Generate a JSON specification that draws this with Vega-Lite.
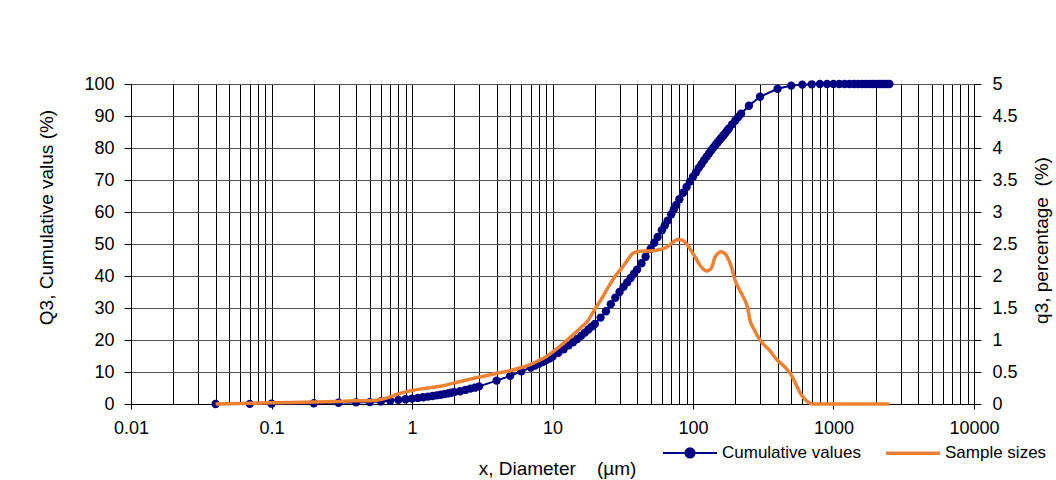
{
  "$schema": "https://vega.github.io/schema/vega-lite/v6.json",
  "width": 843,
  "height": 320,
  "autosize": {"type": "none"},
  "padding": {"left": 131, "top": 84, "right": 82, "bottom": 76},
  "background": "white",
  "config": {
    "font": "Liberation Sans",
    "view": {"stroke": "#000000", "strokeWidth": 1},
    "axis": {
      "labelFontSize": 18, "titleFontSize": 19, "titleFontWeight": "normal",
      "labelColor": "#000000", "titleColor": "#000000",
      "domainColor": "#000000", "tickColor": "#000000", "domainWidth": 1, "tickWidth": 1
    }
  },
  "datasets": {
    "cum": [
      {"d": 0.04, "v": 0, "series": "Cumulative values"},
      {"d": 0.07, "v": 0.05, "series": "Cumulative values"},
      {"d": 0.1, "v": 0.1, "series": "Cumulative values"},
      {"d": 0.2, "v": 0.25, "series": "Cumulative values"},
      {"d": 0.3, "v": 0.4, "series": "Cumulative values"},
      {"d": 0.4, "v": 0.5, "series": "Cumulative values"},
      {"d": 0.5, "v": 0.6, "series": "Cumulative values"},
      {"d": 0.6, "v": 0.8, "series": "Cumulative values"},
      {"d": 0.7, "v": 1.0, "series": "Cumulative values"},
      {"d": 0.8, "v": 1.3, "series": "Cumulative values"},
      {"d": 0.9, "v": 1.5, "series": "Cumulative values"},
      {"d": 1.0, "v": 1.7, "series": "Cumulative values"},
      {"d": 1.1, "v": 1.9, "series": "Cumulative values"},
      {"d": 1.2, "v": 2.1, "series": "Cumulative values"},
      {"d": 1.3, "v": 2.3, "series": "Cumulative values"},
      {"d": 1.4, "v": 2.5, "series": "Cumulative values"},
      {"d": 1.5, "v": 2.7, "series": "Cumulative values"},
      {"d": 1.6, "v": 2.9, "series": "Cumulative values"},
      {"d": 1.7, "v": 3.1, "series": "Cumulative values"},
      {"d": 1.8, "v": 3.3, "series": "Cumulative values"},
      {"d": 1.9, "v": 3.5, "series": "Cumulative values"},
      {"d": 2.0, "v": 3.7, "series": "Cumulative values"},
      {"d": 2.2, "v": 4.0, "series": "Cumulative values"},
      {"d": 2.4, "v": 4.4, "series": "Cumulative values"},
      {"d": 2.6, "v": 4.8, "series": "Cumulative values"},
      {"d": 2.8, "v": 5.1, "series": "Cumulative values"},
      {"d": 3.0, "v": 5.5, "series": "Cumulative values"},
      {"d": 4.0, "v": 7.3, "series": "Cumulative values"},
      {"d": 5.0, "v": 8.8, "series": "Cumulative values"},
      {"d": 6.0, "v": 10.2, "series": "Cumulative values"},
      {"d": 7.0, "v": 11.4, "series": "Cumulative values"},
      {"d": 7.5, "v": 12.0, "series": "Cumulative values"},
      {"d": 8.0, "v": 12.6, "series": "Cumulative values"},
      {"d": 8.5, "v": 13.1, "series": "Cumulative values"},
      {"d": 9.0, "v": 13.7, "series": "Cumulative values"},
      {"d": 9.5, "v": 14.2, "series": "Cumulative values"},
      {"d": 10, "v": 14.8, "series": "Cumulative values"},
      {"d": 11, "v": 16.0, "series": "Cumulative values"},
      {"d": 12, "v": 17.1, "series": "Cumulative values"},
      {"d": 13, "v": 18.3, "series": "Cumulative values"},
      {"d": 14, "v": 19.3, "series": "Cumulative values"},
      {"d": 15, "v": 20.3, "series": "Cumulative values"},
      {"d": 16, "v": 21.3, "series": "Cumulative values"},
      {"d": 17, "v": 22.3, "series": "Cumulative values"},
      {"d": 18, "v": 23.3, "series": "Cumulative values"},
      {"d": 19, "v": 24.2, "series": "Cumulative values"},
      {"d": 20, "v": 25.0, "series": "Cumulative values"},
      {"d": 22, "v": 27.0, "series": "Cumulative values"},
      {"d": 24, "v": 29.0, "series": "Cumulative values"},
      {"d": 26, "v": 31.2, "series": "Cumulative values"},
      {"d": 28, "v": 33.2, "series": "Cumulative values"},
      {"d": 30, "v": 35.0, "series": "Cumulative values"},
      {"d": 32, "v": 36.6, "series": "Cumulative values"},
      {"d": 34, "v": 38.0, "series": "Cumulative values"},
      {"d": 36, "v": 39.4, "series": "Cumulative values"},
      {"d": 38, "v": 40.7, "series": "Cumulative values"},
      {"d": 40, "v": 42.0, "series": "Cumulative values"},
      {"d": 43, "v": 44.0, "series": "Cumulative values"},
      {"d": 46, "v": 46.0, "series": "Cumulative values"},
      {"d": 50, "v": 48.5, "series": "Cumulative values"},
      {"d": 53, "v": 50.4, "series": "Cumulative values"},
      {"d": 56, "v": 52.2, "series": "Cumulative values"},
      {"d": 60, "v": 54.3, "series": "Cumulative values"},
      {"d": 63, "v": 55.8, "series": "Cumulative values"},
      {"d": 66, "v": 57.3, "series": "Cumulative values"},
      {"d": 70, "v": 59.3, "series": "Cumulative values"},
      {"d": 73, "v": 60.8, "series": "Cumulative values"},
      {"d": 76, "v": 62.2, "series": "Cumulative values"},
      {"d": 80, "v": 64.0, "series": "Cumulative values"},
      {"d": 85, "v": 66.0, "series": "Cumulative values"},
      {"d": 90, "v": 67.8, "series": "Cumulative values"},
      {"d": 95, "v": 69.5, "series": "Cumulative values"},
      {"d": 100, "v": 71.0, "series": "Cumulative values"},
      {"d": 105, "v": 72.4, "series": "Cumulative values"},
      {"d": 110, "v": 73.8, "series": "Cumulative values"},
      {"d": 115, "v": 75.0, "series": "Cumulative values"},
      {"d": 120, "v": 76.2, "series": "Cumulative values"},
      {"d": 125, "v": 77.3, "series": "Cumulative values"},
      {"d": 130, "v": 78.3, "series": "Cumulative values"},
      {"d": 135, "v": 79.3, "series": "Cumulative values"},
      {"d": 140, "v": 80.2, "series": "Cumulative values"},
      {"d": 145, "v": 81.0, "series": "Cumulative values"},
      {"d": 150, "v": 81.8, "series": "Cumulative values"},
      {"d": 155, "v": 82.6, "series": "Cumulative values"},
      {"d": 160, "v": 83.3, "series": "Cumulative values"},
      {"d": 165, "v": 84.0, "series": "Cumulative values"},
      {"d": 170, "v": 84.7, "series": "Cumulative values"},
      {"d": 175, "v": 85.4, "series": "Cumulative values"},
      {"d": 180, "v": 86.1, "series": "Cumulative values"},
      {"d": 190, "v": 87.4, "series": "Cumulative values"},
      {"d": 200, "v": 88.6, "series": "Cumulative values"},
      {"d": 210, "v": 89.7, "series": "Cumulative values"},
      {"d": 220, "v": 90.7, "series": "Cumulative values"},
      {"d": 250, "v": 93.2, "series": "Cumulative values"},
      {"d": 300, "v": 96.0, "series": "Cumulative values"},
      {"d": 400, "v": 98.5, "series": "Cumulative values"},
      {"d": 500, "v": 99.5, "series": "Cumulative values"},
      {"d": 600, "v": 99.8, "series": "Cumulative values"},
      {"d": 700, "v": 99.9, "series": "Cumulative values"},
      {"d": 800, "v": 100, "series": "Cumulative values"},
      {"d": 900, "v": 100, "series": "Cumulative values"},
      {"d": 1000, "v": 100, "series": "Cumulative values"},
      {"d": 1100, "v": 100, "series": "Cumulative values"},
      {"d": 1200, "v": 100, "series": "Cumulative values"},
      {"d": 1300, "v": 100, "series": "Cumulative values"},
      {"d": 1400, "v": 100, "series": "Cumulative values"},
      {"d": 1500, "v": 100, "series": "Cumulative values"},
      {"d": 1600, "v": 100, "series": "Cumulative values"},
      {"d": 1700, "v": 100, "series": "Cumulative values"},
      {"d": 1800, "v": 100, "series": "Cumulative values"},
      {"d": 1900, "v": 100, "series": "Cumulative values"},
      {"d": 2000, "v": 100, "series": "Cumulative values"},
      {"d": 2100, "v": 100, "series": "Cumulative values"},
      {"d": 2200, "v": 100, "series": "Cumulative values"},
      {"d": 2300, "v": 100, "series": "Cumulative values"},
      {"d": 2400, "v": 100, "series": "Cumulative values"},
      {"d": 2500, "v": 100, "series": "Cumulative values"}
    ],
    "q3": [
      {"d": 0.04, "p": 0.0, "series": "Sample sizes"},
      {"d": 0.07, "p": 0.01, "series": "Sample sizes"},
      {"d": 0.1, "p": 0.02, "series": "Sample sizes"},
      {"d": 0.2, "p": 0.03, "series": "Sample sizes"},
      {"d": 0.3, "p": 0.04, "series": "Sample sizes"},
      {"d": 0.4, "p": 0.05, "series": "Sample sizes"},
      {"d": 0.5, "p": 0.05, "series": "Sample sizes"},
      {"d": 0.6, "p": 0.07, "series": "Sample sizes"},
      {"d": 0.7, "p": 0.11, "series": "Sample sizes"},
      {"d": 0.8, "p": 0.16, "series": "Sample sizes"},
      {"d": 0.9, "p": 0.19, "series": "Sample sizes"},
      {"d": 1.0, "p": 0.21, "series": "Sample sizes"},
      {"d": 1.2, "p": 0.24, "series": "Sample sizes"},
      {"d": 1.4, "p": 0.26, "series": "Sample sizes"},
      {"d": 1.7, "p": 0.29, "series": "Sample sizes"},
      {"d": 2.0, "p": 0.33, "series": "Sample sizes"},
      {"d": 2.5, "p": 0.38, "series": "Sample sizes"},
      {"d": 3.0, "p": 0.42, "series": "Sample sizes"},
      {"d": 3.5, "p": 0.45, "series": "Sample sizes"},
      {"d": 4.0, "p": 0.48, "series": "Sample sizes"},
      {"d": 5.0, "p": 0.52, "series": "Sample sizes"},
      {"d": 6.0, "p": 0.57, "series": "Sample sizes"},
      {"d": 7.0, "p": 0.62, "series": "Sample sizes"},
      {"d": 8.0, "p": 0.68, "series": "Sample sizes"},
      {"d": 9.0, "p": 0.74, "series": "Sample sizes"},
      {"d": 10, "p": 0.81, "series": "Sample sizes"},
      {"d": 11, "p": 0.88, "series": "Sample sizes"},
      {"d": 12.6, "p": 0.99, "series": "Sample sizes"},
      {"d": 14, "p": 1.08, "series": "Sample sizes"},
      {"d": 16, "p": 1.2, "series": "Sample sizes"},
      {"d": 17.7, "p": 1.29, "series": "Sample sizes"},
      {"d": 20, "p": 1.48, "series": "Sample sizes"},
      {"d": 22, "p": 1.62, "series": "Sample sizes"},
      {"d": 25, "p": 1.83, "series": "Sample sizes"},
      {"d": 28, "p": 2.0, "series": "Sample sizes"},
      {"d": 31, "p": 2.12, "series": "Sample sizes"},
      {"d": 34, "p": 2.24, "series": "Sample sizes"},
      {"d": 37, "p": 2.35, "series": "Sample sizes"},
      {"d": 40, "p": 2.38, "series": "Sample sizes"},
      {"d": 45, "p": 2.39, "series": "Sample sizes"},
      {"d": 50, "p": 2.39, "series": "Sample sizes"},
      {"d": 57, "p": 2.41, "series": "Sample sizes"},
      {"d": 62, "p": 2.43, "series": "Sample sizes"},
      {"d": 67, "p": 2.47, "series": "Sample sizes"},
      {"d": 72, "p": 2.53, "series": "Sample sizes"},
      {"d": 78, "p": 2.57, "series": "Sample sizes"},
      {"d": 84, "p": 2.56, "series": "Sample sizes"},
      {"d": 90, "p": 2.5, "series": "Sample sizes"},
      {"d": 95, "p": 2.43, "series": "Sample sizes"},
      {"d": 100, "p": 2.35, "series": "Sample sizes"},
      {"d": 106, "p": 2.26, "series": "Sample sizes"},
      {"d": 112, "p": 2.17, "series": "Sample sizes"},
      {"d": 118, "p": 2.11, "series": "Sample sizes"},
      {"d": 125, "p": 2.08, "series": "Sample sizes"},
      {"d": 132, "p": 2.1, "series": "Sample sizes"},
      {"d": 137, "p": 2.15, "series": "Sample sizes"},
      {"d": 142, "p": 2.27, "series": "Sample sizes"},
      {"d": 150, "p": 2.35, "series": "Sample sizes"},
      {"d": 160, "p": 2.38, "series": "Sample sizes"},
      {"d": 170, "p": 2.34, "series": "Sample sizes"},
      {"d": 178, "p": 2.27, "series": "Sample sizes"},
      {"d": 190, "p": 2.1, "series": "Sample sizes"},
      {"d": 199, "p": 1.94, "series": "Sample sizes"},
      {"d": 210, "p": 1.82, "series": "Sample sizes"},
      {"d": 228, "p": 1.67, "series": "Sample sizes"},
      {"d": 245, "p": 1.5, "series": "Sample sizes"},
      {"d": 255, "p": 1.3, "series": "Sample sizes"},
      {"d": 270, "p": 1.18, "series": "Sample sizes"},
      {"d": 300, "p": 1.0, "series": "Sample sizes"},
      {"d": 350, "p": 0.84, "series": "Sample sizes"},
      {"d": 400, "p": 0.68, "series": "Sample sizes"},
      {"d": 450, "p": 0.58, "series": "Sample sizes"},
      {"d": 495, "p": 0.47, "series": "Sample sizes"},
      {"d": 530, "p": 0.35, "series": "Sample sizes"},
      {"d": 570, "p": 0.2, "series": "Sample sizes"},
      {"d": 610, "p": 0.1, "series": "Sample sizes"},
      {"d": 660, "p": 0.03, "series": "Sample sizes"},
      {"d": 710, "p": 0.0, "series": "Sample sizes"},
      {"d": 800, "p": 0.0, "series": "Sample sizes"},
      {"d": 1000, "p": 0.0, "series": "Sample sizes"},
      {"d": 1500, "p": 0.0, "series": "Sample sizes"},
      {"d": 2000, "p": 0.0, "series": "Sample sizes"},
      {"d": 2500, "p": 0.0, "series": "Sample sizes"}
    ]
  },
  "encoding": {
    "x": {
      "field": "d",
      "type": "quantitative",
      "scale": {"type": "log", "domain": [0.01, 10000], "nice": false},
      "axis": {
        "values": [0.01, 0.02, 0.03, 0.04, 0.05, 0.06, 0.07, 0.08, 0.09, 0.1, 0.2, 0.3, 0.4, 0.5, 0.6, 0.7, 0.8, 0.9, 1, 2, 3, 4, 5, 6, 7, 8, 9, 10, 20, 30, 40, 50, 60, 70, 80, 90, 100, 200, 300, 400, 500, 600, 700, 800, 900, 1000, 2000, 3000, 4000, 5000, 6000, 7000, 8000, 9000, 10000],
        "grid": true,
        "gridColor": "#000000",
        "gridWidth": 1,
        "labelExpr": "abs(log(datum.value)/LN10 - round(log(datum.value)/LN10)) < 0.001 ? format(datum.value, '~g') : ''",
        "labelOverlap": false,
        "labelFlush": false,
        "tickSize": 5,
        "tickOpacity": {"condition": {"test": "abs(log(datum.value)/LN10 - round(log(datum.value)/LN10)) < 0.001", "value": 1}, "value": 0},
        "labelPadding": 10,
        "title": "x, Diameter\u00a0\u00a0\u00a0\u00a0(µm)",
        "titleY": 64,
        "titleX": 426,
        "titleBaseline": "middle"
      }
    }
  },
  "layer": [
    {
      "data": {"name": "cum"},
      "mark": {"type": "line", "strokeWidth": 2, "point": {"filled": true, "size": 70, "opacity": 1}},
      "encoding": {
        "y": {
          "field": "v",
          "type": "quantitative",
          "scale": {"domain": [0, 100], "nice": false},
          "axis": {
            "values": [0, 10, 20, 30, 40, 50, 60, 70, 80, 90, 100],
            "grid": true,
            "gridColor": "#505050",
            "gridWidth": 1,
            "tickSize": 7,
            "labelPadding": 10,
            "title": "Q3, Cumulative valus (%)",
            "titleAngle": 270,
            "titleX": -85,
            "titleY": 133,
            "titleBaseline": "middle",
            "titleAlign": "center"
          }
        },
        "color": {
          "field": "series",
          "type": "nominal",
          "scale": {"domain": ["Cumulative values", "Sample sizes"], "range": ["#000080", "#ef8132"]},
          "legend": {
            "orient": "none",
            "legendX": 532,
            "legendY": 360,
            "direction": "horizontal",
            "title": null,
            "labelFontSize": 17,
            "labelColor": "#000000",
            "symbolSize": 2916,
            "symbolStrokeWidth": 2,
            "symbolOffset": 18.5,
            "labelOffset": 23.5,
            "columnPadding": 18,
            "padding": 0,
            "encode": {
              "symbols": {
                "update": {
                  "shape": {"signal": "datum.value === 'Cumulative values' ? 'M-1,0L1,0M-0.17,0A0.17,0.17,0,1,0,0.17,0A0.17,0.17,0,1,0,-0.17,0Z' : 'stroke'"},
                  "fill": {"signal": "datum.value === 'Cumulative values' ? '#000080' : 'transparent'"},
                  "stroke": {"signal": "datum.value === 'Cumulative values' ? '#000080' : '#ef8132'"},
                  "strokeWidth": {"signal": "datum.value === 'Cumulative values' ? 2 : 3.5"},
                  "opacity": {"value": 1}
                }
              }
            }
          }
        }
      }
    },
    {
      "data": {"name": "q3"},
      "mark": {"type": "line", "strokeWidth": 3.5, "interpolate": "monotone"},
      "encoding": {
        "y": {
          "field": "p",
          "type": "quantitative",
          "scale": {"domain": [0, 5], "nice": false},
          "axis": {
            "orient": "right",
            "values": [0, 0.5, 1, 1.5, 2, 2.5, 3, 3.5, 4, 4.5, 5],
            "format": "~g",
            "grid": false,
            "tickSize": 7,
            "labelPadding": 11,
            "title": "q3, percentage\u00a0\u00a0(%)",
            "titleAngle": 270,
            "titleX": 67,
            "titleY": 156,
            "titleBaseline": "middle",
            "titleAlign": "center"
          }
        },
        "color": {"field": "series", "type": "nominal"}
      }
    }
  ],
  "resolve": {"scale": {"y": "independent"}}
}
